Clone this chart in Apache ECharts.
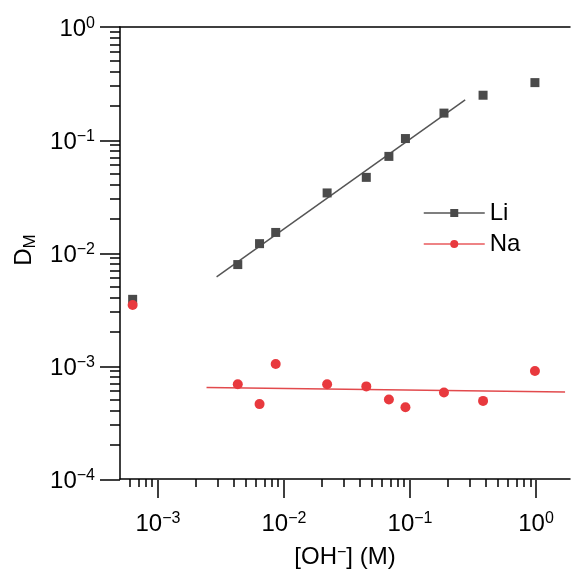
<!DOCTYPE html>
<html>
<head>
<meta charset="utf-8">
<script src="https://cdn.jsdelivr.net/npm/echarts@6/dist/echarts.min.js"></script>
<style>html,body{margin:0;padding:0;background:#fff;}#c{width:571px;height:574px;}</style>
</head>
<body>
<div id="c"></div>
<script>
// [OH-] concentrations (M)
const ohConc = [6.3e-4, 4.3e-3, 6.4e-3, 8.6e-3, 0.022, 0.045, 0.068, 0.092, 0.186, 0.38, 0.98];
// Partition coefficients D_M
const liValues = [3.89e-3, 7.9e-3, 0.0121, 0.0152, 0.034, 0.0467, 0.0716, 0.103, 0.173, 0.249, 0.322];
const naValues = [3.46e-3, 6.9e-4, 4.6e-4, 1.04e-3, 6.9e-4, 6.6e-4, 5.06e-4, 4.32e-4, 5.83e-4, 4.91e-4, 9.04e-4];
// Fit line endpoints
const liFitX = [2.92e-3, 0.274];
const liFitY = [6.16e-3, 0.227];
const naFitX = [2.43e-3, 1.70];
const naFitY = [6.45e-4, 5.9e-4];
// Tick values
const xMajorTicks = [1e-3, 1e-2, 1e-1, 1];
const yMajorTicks = [1e-4, 1e-3, 1e-2, 1e-1, 1];
const xMinorTicks = [6e-4, 7e-4, 8e-4, 9e-4, 2e-3, 3e-3, 4e-3, 5e-3, 6e-3, 7e-3, 8e-3, 9e-3,
  2e-2, 3e-2, 4e-2, 5e-2, 6e-2, 7e-2, 8e-2, 9e-2, 0.2, 0.3, 0.4, 0.5, 0.6, 0.7, 0.8, 0.9];
const yMinorTicks = [2e-4, 3e-4, 4e-4, 5e-4, 6e-4, 7e-4, 8e-4, 9e-4, 2e-3, 3e-3, 4e-3, 5e-3, 6e-3, 7e-3, 8e-3, 9e-3,
  2e-2, 3e-2, 4e-2, 5e-2, 6e-2, 7e-2, 8e-2, 9e-2, 0.2, 0.3, 0.4, 0.5, 0.6, 0.7, 0.8, 0.9];

const FONT = "'Liberation Sans', Arial, sans-serif";
const X_MIN = 5e-4, X_MAX = 1.86, Y_MIN = 1e-4, Y_MAX = 1;

function powLabel(v) {
  const e = Math.round(Math.log10(v));
  return '{b|10}{s|' + (e < 0 ? '\u2212' + (-e) : String(e)) + '}';
}
const labelRich = {
  b: {fontSize: 24, fontFamily: FONT, color: '#000', lineHeight: 26},
  s: {fontSize: 16, fontFamily: FONT, color: '#000', lineHeight: 16, verticalAlign: 'top'}
};
const gridPos = {left: 120, right: 1, top: 27, bottom: 94};
const axisLineStyle = {color: '#000', width: 1.5};

const chart = echarts.init(document.getElementById('c'));
chart.setOption({
  animation: false,
  backgroundColor: '#fff',
  grid: [Object.assign({}, gridPos), Object.assign({}, gridPos)],
  legend: {
    data: ['Li', 'Na'],
    orient: 'vertical',
    left: 423, top: 201, padding: 0,
    itemWidth: 61, itemHeight: 10, itemGap: 7,
    textStyle: {fontSize: 24, fontFamily: FONT, color: '#000', lineHeight: 24},
    lineStyle: {opacity: 1, width: 1.5}
  },
  xAxis: [
    {
      type: 'log', logBase: 10, gridIndex: 0, position: 'bottom',
      min: X_MIN, max: X_MAX,
      axisLine: {show: true, lineStyle: axisLineStyle},
      axisTick: {show: true, length: 8, customValues: xMinorTicks, lineStyle: axisLineStyle},
      axisLabel: {show: true, customValues: xMajorTicks, margin: 32, formatter: powLabel, rich: labelRich},
      splitLine: {show: false}, minorTick: {show: false},
      name: '[OH{s|\u2212}] (M)', nameLocation: 'middle', nameGap: 66,
      nameTextStyle: {fontSize: 24, fontFamily: FONT, color: '#000',
        rich: {s: {fontSize: 16, fontFamily: FONT, color: '#000', verticalAlign: 'top', lineHeight: 16}}}
    },
    {
      type: 'log', logBase: 10, gridIndex: 0, position: 'top',
      min: X_MIN, max: X_MAX,
      axisLine: {show: true, lineStyle: axisLineStyle},
      axisTick: {show: false}, axisLabel: {show: false}, splitLine: {show: false}
    },
    {
      type: 'log', logBase: 10, gridIndex: 1, position: 'bottom',
      min: X_MIN, max: X_MAX,
      axisLine: {show: false},
      axisTick: {show: true, length: 18, customValues: xMajorTicks, lineStyle: axisLineStyle},
      axisLabel: {show: false}, splitLine: {show: false}
    }
  ],
  yAxis: [
    {
      type: 'log', logBase: 10, gridIndex: 0, position: 'left',
      min: Y_MIN, max: Y_MAX,
      axisLine: {show: true, lineStyle: axisLineStyle},
      axisTick: {show: true, length: 10, customValues: yMinorTicks, lineStyle: axisLineStyle},
      axisLabel: {show: true, customValues: yMajorTicks, margin: 25, padding: [4, 0, 0, 0],
        formatter: powLabel, rich: labelRich},
      splitLine: {show: false}, minorTick: {show: false},
      name: 'D{m|M}', nameLocation: 'middle', nameGap: 76,
      nameTextStyle: {fontSize: 24, fontFamily: FONT, color: '#000', padding: [0, 0, 0, 6],
        rich: {m: {fontSize: 17, fontFamily: FONT, color: '#000', verticalAlign: 'bottom', lineHeight: 30}}}
    },
    {
      type: 'log', logBase: 10, gridIndex: 1, position: 'left',
      min: Y_MIN, max: Y_MAX,
      axisLine: {show: false},
      axisTick: {show: true, length: 20, customValues: yMajorTicks, lineStyle: axisLineStyle},
      axisLabel: {show: false}, splitLine: {show: false}
    }
  ],
  series: [
    {
      name: 'Li fit', type: 'line', xAxisIndex: 0, yAxisIndex: 0,
      data: liFitX.map((x, i) => [x, liFitY[i]]),
      showSymbol: false, symbol: 'none', silent: true,
      lineStyle: {color: '#555555', width: 1.5}, z: 2
    },
    {
      name: 'Na fit', type: 'line', xAxisIndex: 0, yAxisIndex: 0,
      data: naFitX.map((x, i) => [x, naFitY[i]]),
      showSymbol: false, symbol: 'none', silent: true,
      lineStyle: {color: '#e24a4d', width: 1.5}, z: 2
    },
    {
      name: 'Li', type: 'line', xAxisIndex: 0, yAxisIndex: 0,
      data: ohConc.map((x, i) => [x, liValues[i]]),
      symbol: 'rect', symbolSize: 9, showSymbol: true,
      itemStyle: {color: '#4a4a4a'},
      lineStyle: {color: '#555555', opacity: 0}, z: 3
    },
    {
      name: 'Na', type: 'line', xAxisIndex: 0, yAxisIndex: 0,
      data: ohConc.map((x, i) => [x, naValues[i]]),
      symbol: 'circle', symbolSize: 10, showSymbol: true,
      itemStyle: {color: '#e8393e'},
      lineStyle: {color: '#e85a5d', opacity: 0}, z: 4
    }
  ]
});
</script>
</body>
</html>
